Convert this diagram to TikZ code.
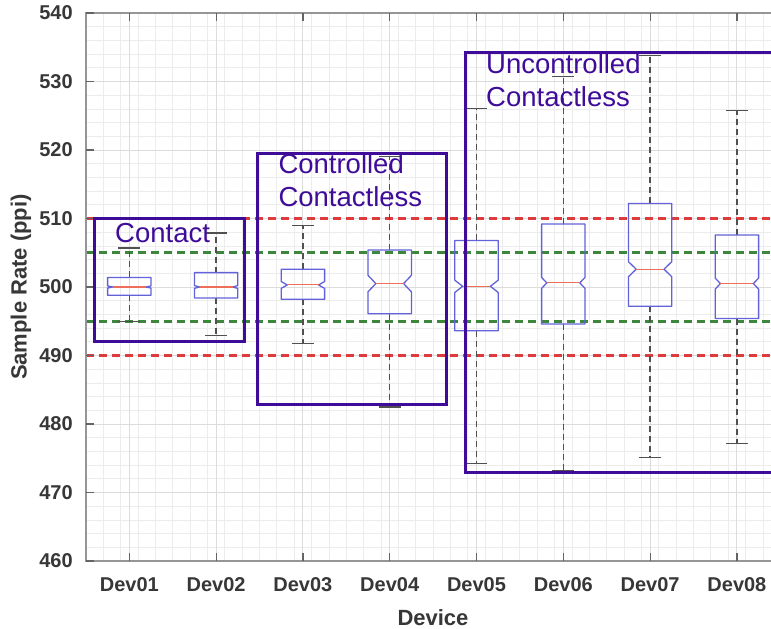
\documentclass[tikz,border=0pt]{standalone}
\usepackage{fontspec}
\setmainfont{Liberation Sans}
\definecolor{purp}{HTML}{3F0C9A}
\definecolor{boxblue}{RGB}{98,98,218}
\definecolor{medred}{RGB}{238,110,90}
\definecolor{thrred}{RGB}{222,60,60}
\definecolor{thrgreen}{RGB}{60,135,60}
\definecolor{whisk}{RGB}{80,80,80}
\definecolor{axgray}{RGB}{150,150,150}
\definecolor{tickgray}{RGB}{100,100,100}
\definecolor{labgray}{RGB}{55,55,55}
\definecolor{majgrid}{RGB}{220,220,220}
\definecolor{mingrid}{RGB}{236,236,236}
\tikzset{
  minorgrid/.style={draw=mingrid, line width=0.8pt},
  majorgrid/.style={draw=majgrid, line width=1pt},
  thrline/.style={line width=2.6pt, dash pattern=on 8pt off 5pt},
  boxline/.style={draw=boxblue, line width=1.3pt, line join=round},
  medline/.style={draw=medred, line width=1.1pt},
  whiskline/.style={draw=whisk, line width=1.3pt, dash pattern=on 6pt off 4pt},
  capline/.style={draw=whisk, line width=1.3pt},
  axisline/.style={draw=axgray, line width=1.6pt},
  tickline/.style={draw=tickgray, line width=1.2pt},
  ticklab/.style={text=labgray, font=\fontsize{20}{24}\selectfont\bfseries, inner sep=0pt},
  axlab/.style={text=labgray, font=\fontsize{22}{26}\selectfont\bfseries, inner sep=0pt},
  grouprect/.style={draw=purp, line width=3pt},
  grouptext/.style={text=purp, font=\fontsize{27.5}{33}\selectfont, inner sep=0pt, anchor=base west}
}
% #1 x, #2 q1, #3 q3, #4 median, #5 notch half-height, #6 notch indent, #7 low whisker, #8 high whisker
\newcommand{\nbox}[8]{%
  \draw[whiskline] (#1,#3) -- (#1,#8);
  \draw[whiskline] (#1,#2) -- (#1,#7);
  \draw[capline] (#1-0.125,#8) -- (#1+0.125,#8);
  \draw[capline] (#1-0.125,#7) -- (#1+0.125,#7);
  \draw[boxline] (#1-0.25,#2) -- (#1-0.25,#4-#5) -- (#1-0.25+#6,#4) -- (#1-0.25,#4+#5)
     -- (#1-0.25,#3) -- (#1+0.25,#3) -- (#1+0.25,#4+#5) -- (#1+0.25-#6,#4)
     -- (#1+0.25,#4-#5) -- (#1+0.25,#2) -- cycle;
  \draw[medline] (#1-0.25+#6,#4) -- (#1+0.25-#6,#4);
}
\begin{document}
\begin{tikzpicture}[x=1pt,y=-1pt]
\useasboundingbox (0,0) rectangle (771,629);
\clip (0,0) rectangle (771,629);
\fill[white] (0,0) rectangle (771,629);

\begin{scope}[shift={(42.5,561)}, x=86.8pt, y=6.85pt, shift={(0,-460)}]
  \begin{scope}
    \clip (0.5,460) rectangle (8.5,540);
    \foreach \v in {462,464,...,538} \draw[minorgrid] (0.5,\v) -- (8.5,\v);
    \foreach \k in {1,...,39} \draw[minorgrid] (0.5+0.2*\k,460) -- (0.5+0.2*\k,540);
    \foreach \v in {470,480,...,530} \draw[majorgrid] (0.5,\v) -- (8.5,\v);
    \foreach \d in {1,...,8} \draw[majorgrid] (\d,460) -- (\d,540);
    % thresholds
    \draw[thrline, draw=thrred] (0.5,510) -- (8.5,510);
    \draw[thrline, draw=thrred] (0.5,490) -- (8.5,490);
    \draw[thrline, draw=thrgreen] (0.5,505) -- (8.5,505);
    \draw[thrline, draw=thrgreen] (0.5,495) -- (8.5,495);
    % box plots
    \nbox{1}{498.8}{501.4}{500.0}{0.15}{0.06}{495.0}{505.7}
    \nbox{2}{498.4}{502.1}{500.0}{0.2}{0.06}{492.9}{507.9}
    \nbox{3}{498.2}{502.6}{500.3}{0.5}{0.07}{491.8}{509.0}
    \nbox{4}{496.1}{505.4}{500.5}{1.2}{0.09}{482.5}{519.1}
    \nbox{5}{493.6}{506.8}{500.1}{0.9}{0.09}{474.2}{526.1}
    \nbox{6}{494.6}{509.2}{500.6}{0.8}{0.06}{473.2}{530.7}
    \nbox{7}{497.2}{512.2}{502.6}{1.1}{0.09}{475.1}{533.8}
    \nbox{8}{495.4}{507.6}{500.5}{0.8}{0.06}{477.2}{525.8}
  \end{scope}
  % axes
  \draw[axisline] (8.6,540) -- (0.5,540) -- (0.5,460) -- (8.6,460);
  \foreach \v in {460,470,...,540} {
    \draw[tickline] (0.5,\v) -- ++(8pt,0);
    \node[ticklab, anchor=east, xshift=-13pt] (yl\v) at (0.5,\v) {\v};
  }
  \foreach \d in {1,...,8} {
    \draw[tickline] (\d,460) -- ++(0,8pt);
    \draw[tickline] (\d,540) -- ++(0,-8pt);
    \node[ticklab, anchor=base, yshift=-30pt] (xl\d) at (\d,460) {Dev0\d};
  }
\end{scope}

\node[axlab, anchor=base] (xlabel) at (433,625) {Device};
\node[axlab, rotate=90] (ylabel) at (21,287) {Sample Rate (ppi)};

% group rectangles
\draw[grouprect] (94,218.3) rectangle (244,341.7);
\draw[grouprect] (257.3,153.3) rectangle (446.7,404.3);
\draw[grouprect] (465,52.7) rectangle (790,472.3);

\node[grouptext] (tcontact) at (115,242) {Contact};
\node[grouptext] (tctrl1) at (278.3,173.3) {Controlled};
\node[grouptext] (tctrl2) at (278.3,206.7) {Contactless};
\node[grouptext] (tunc1) at (486,73.3) {Uncontrolled};
\node[grouptext] (tunc2) at (486,106.7) {Contactless};
\end{tikzpicture}
\end{document}
